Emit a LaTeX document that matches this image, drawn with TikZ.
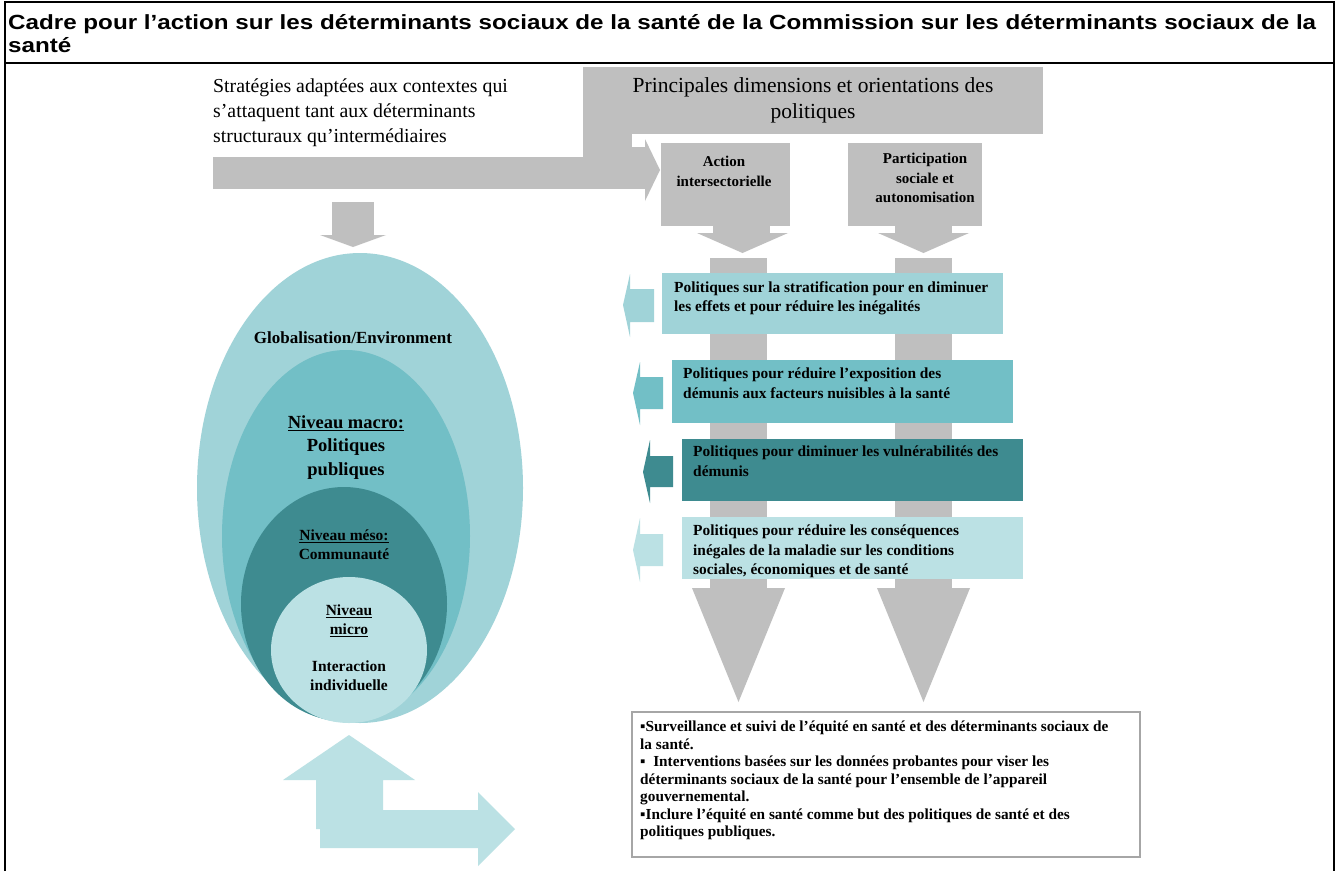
\documentclass[tikz,border=0pt]{standalone}
\usepackage{fontspec}
\setmainfont{Liberation Serif}
\newfontfamily\titlefont[FakeStretch=1.18]{Liberation Sans}
\usetikzlibrary{shapes.geometric}
\definecolor{grayA}{HTML}{BFBFBF}
\definecolor{tealA}{HTML}{A0D3D8}
\definecolor{tealB}{HTML}{72BFC6}
\definecolor{tealC}{HTML}{3E8B90}
\definecolor{tealD}{HTML}{BBE1E4}
\definecolor{boxline}{HTML}{A6A6A6}
\begin{document}
\begin{tikzpicture}[x=1pt,y=-1pt,
  every node/.style={inner sep=0pt},
  titletxt/.style={font=\titlefont\bfseries\fontsize{20.5}{23}\selectfont, anchor=base west},
  bigtxt/.style={font=\fontsize{19.8}{24.8}\selectfont, align=left, anchor=north west},
  headtxt/.style={font=\fontsize{21.5}{26}\selectfont, align=center, anchor=north},
  boxtxt/.style={font=\bfseries\fontsize{15}{19.5}\selectfont, align=center, anchor=north},
  poltxt/.style={font=\bfseries\fontsize{15.4}{19.5}\selectfont, align=left, anchor=north west},
  graybox/.style={fill=grayA},
  ]
\useasboundingbox (0,0) rectangle (1336,871);
\fill[white] (0,0) rectangle (1336,871);

% frame
\draw[line width=2pt] (4.5,871) -- (4.5,2) -- (1334,2) -- (1334,871);
\draw[line width=2pt] (4.5,63) -- (1334,63);

% title
\node[titletxt] (t1) at (8,29) {Cadre pour l’action sur les déterminants sociaux de la santé de la Commission sur les déterminants sociaux de la};
\node[titletxt] (t2) at (8,52) {santé};

% gray bent arrow
\fill[grayA] (583,67) rectangle (1043,134);
\fill[grayA] (583,134) rectangle (632,158);
\fill[grayA] (632,147) rectangle (645,158);
\fill[grayA] (213,157) rectangle (646,189);
\fill[grayA] (645,139) -- (660,170) -- (645,201) -- cycle;

\node[bigtxt] (strat) at (213,79) {Stratégies adaptées aux contextes qui\\s’attaquent tant aux déterminants\\structuraux qu’intermédiaires};
\node[headtxt] (princ) at (813,77) {Principales dimensions et orientations des\\politiques};

% dimension boxes
\node[graybox, minimum width=129pt, minimum height=83pt] (act) at (725.5,184.5) {};
\node[graybox, minimum width=134pt, minimum height=83pt] (part) at (915,184.5) {};
\node[boxtxt] (actt) at (724,156) {Action\\intersectorielle};
\node[boxtxt] (partt) at (925,153) {Participation\\sociale et\\autonomisation};

% small down arrows
\fill[grayA] (713,225) rectangle (770,234);
\fill[grayA] (697,233) -- (788,233) -- (742.5,253) -- cycle;
\fill[grayA] (895,225) rectangle (952,234);
\fill[grayA] (878,233) -- (969,233) -- (923.5,253) -- cycle;

% long down arrows
\fill[grayA] (710,258) rectangle (767,590);
\fill[grayA] (692,588) -- (785,588) -- (738.5,702) -- cycle;
\fill[grayA] (895,258) rectangle (952,590);
\fill[grayA] (877,588) -- (970,588) -- (923.5,702) -- cycle;

% policy boxes
\node[fill=tealA, minimum width=341pt, minimum height=61pt] (p1) at (832.5,303.5) {};
\node[fill=tealB, minimum width=341pt, minimum height=63pt] (p2) at (842.5,391.5) {};
\node[fill=tealC, minimum width=341pt, minimum height=62pt] (p3) at (852.5,470) {};
\node[fill=tealD, minimum width=341pt, minimum height=62pt] (p4) at (852.5,548) {};

% left arrows
\fill[tealA] (623,305) -- (630,274) -- (630,289) -- (654,289) -- (654,322) -- (630,322) -- (630,337) -- cycle;
\fill[tealB] (633,393) -- (640,362) -- (640,377) -- (663,377) -- (663,409) -- (640,409) -- (640,425) -- cycle;
\fill[tealC] (643,472) -- (650,440) -- (650,456) -- (673,456) -- (673,487) -- (650,487) -- (650,503) -- cycle;
\fill[tealD] (633,550) -- (640,518) -- (640,534) -- (663,534) -- (663,566) -- (640,566) -- (640,582) -- cycle;

\node[poltxt] (p1t) at (674,281) {Politiques sur la stratification pour en diminuer\\les effets et pour réduire les inégalités};
\node[poltxt] (p2t) at (683,368) {Politiques pour réduire l’exposition des\\démunis aux facteurs nuisibles à la santé};
\node[poltxt] (p3t) at (693,446) {Politiques pour diminuer les vulnérabilités des\\démunis};
\node[poltxt] (p4t) at (693,525) {Politiques pour réduire les conséquences\\inégales de la maladie sur les conditions\\sociales, économiques et de santé};

% gray arrow above ellipse
\fill[grayA] (332,202) rectangle (374,236);
\fill[grayA] (320,235) -- (386,235) -- (353,247) -- cycle;

% ellipses
\fill[tealA] (360,488) ellipse [x radius=163, y radius=235];
\fill[tealB] (346,536) ellipse [x radius=124, y radius=186];
\fill[tealC] (344,604) ellipse [x radius=103, y radius=117];
\fill[tealD] (349,650) ellipse [x radius=78, y radius=73];

\node[font=\bfseries\fontsize{17}{19}\selectfont] (glob) at (353,338) {Globalisation/Environment};
\node[font=\bfseries\fontsize{18.5}{23.5}\selectfont, align=center, anchor=north] (macro) at (346,415) {\underline{Niveau macro:}\\Politiques\\publiques};
\node[font=\bfseries\fontsize{15.5}{18.5}\selectfont, align=center, anchor=north] (meso) at (344,530) {\underline{Niveau méso:}\\Communauté};
\node[font=\bfseries\fontsize{15.5}{18.5}\selectfont, align=center, anchor=north] (micro) at (349,605) {\underline{Niveau}\\\underline{micro}};
\node[font=\bfseries\fontsize{15.5}{18.5}\selectfont, align=center, anchor=north] (inter) at (349,661) {Interaction\\individuelle};

% bottom-left bent arrow
\fill[tealD] (349,735) -- (415,780) -- (383,780) -- (383,829) -- (316,829) -- (316,780) -- (283,780) -- cycle;
\fill[tealD] (320,810) -- (478,810) -- (478,792) -- (515,829) -- (478,866) -- (478,848) -- (320,848) -- cycle;

% bottom box
\node[draw=boxline, line width=1.5pt, fill=white, minimum width=508pt, minimum height=145pt] (bb) at (886,784.5) {};
\node[font=\bfseries\fontsize{15.3}{17.5}\selectfont, align=left, anchor=north west] (bbt) at (640,721) {▪Surveillance et suivi de l’équité en santé et des déterminants sociaux de\\la santé.\\▪\ \ Interventions basées sur les données probantes pour viser les\\déterminants sociaux de la santé pour l’ensemble de l’appareil\\gouvernemental.\\▪Inclure l’équité en santé comme but des politiques de santé et des\\politiques publiques.};
\end{tikzpicture}
\end{document}
